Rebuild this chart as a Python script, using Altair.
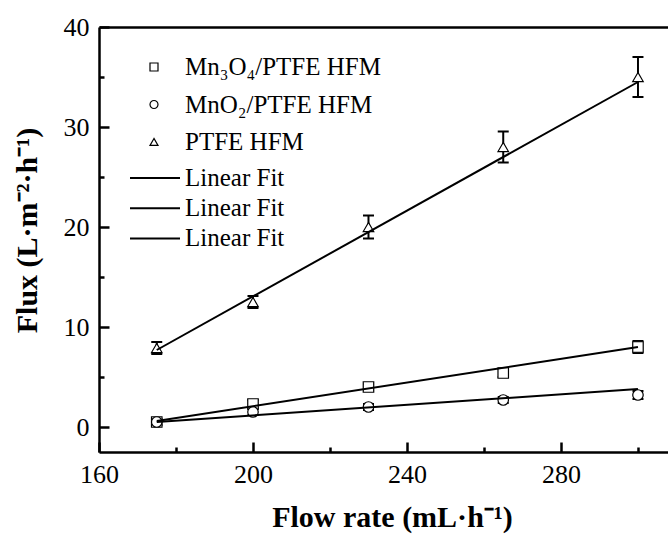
import altair as alt
import pandas as pd

# ---- data ----
flow = [175, 200, 230, 265, 300]
series_names = ["Mn₃O₄/PTFE HFM", "MnO₂/PTFE HFM", "PTFE HFM"]
mn3o4_flux = [0.5, 2.3, 4.0, 5.4, 8.0]
mn3o4_err = [0.3, 0.4, 0.3, 0.4, 0.6]
mno2_flux = [0.5, 1.5, 2.0, 2.7, 3.2]
mno2_err = [0.3, 0.3, 0.3, 0.3, 0.4]
ptfe_flux = [7.9, 12.5, 20.0, 28.0, 35.0]
ptfe_err = [0.6, 0.6, 1.15, 1.55, 2.0]

fit_keys = ["fit1", "fit2", "fit3"]
fit_x = [175, 300]
fit_mn3o4 = [0.6, 8.0]
fit_mno2 = [0.5, 3.8]
fit_ptfe = [7.7, 34.5]

x_major = [160, 200, 240, 280]
x_minor = [180, 220, 260, 300]
y_major = [0, 10, 20, 30, 40]
y_minor = [5, 15, 25, 35]

x_title = "Flow rate  (mL·h⁻¹)"
y_title = "Flux  (L·m⁻²·h⁻¹)"

# ---- tables ----
rows = []
for name, ys, es in zip(series_names,
                        [mn3o4_flux, mno2_flux, ptfe_flux],
                        [mn3o4_err, mno2_err, ptfe_err]):
    for x, y, e in zip(flow, ys, es):
        rows.append({"series": name, "x": x, "y": y, "lo": y - e, "hi": y + e})
pts = pd.DataFrame(rows)

frows = []
for key, ys in zip(fit_keys, [fit_mn3o4, fit_mno2, fit_ptfe]):
    for x, y in zip(fit_x, ys):
        frows.append({"fit": key, "x": x, "y": y})
fits = pd.DataFrame(frows)

W, H = 569, 425
FONT = "Liberation Serif"
xs = alt.Scale(domain=[160, 307.8], nice=False, zero=False)
ys_ = alt.Scale(domain=[-2.5, 40], nice=False, zero=False)

common = dict(grid=False, labelFont=FONT, labelColor="black", titleFont=FONT,
              titleColor="black", domainColor="black", tickColor="black")

ax_x_main = alt.Axis(orient="bottom", values=x_major, ticks=False, tickSize=0,
                     labelPadding=9, labelFontSize=26, labelFlush=False,
                     labelOverlap=False, domain=True, domainWidth=2.5,
                     title=x_title, titleFontSize=30, titleFontWeight="bold",
                     titleX=293, titleY=65, titleBaseline="middle", **common)
ax_y_main = alt.Axis(orient="left", values=y_major, ticks=False, tickSize=0,
                     labelPadding=10, labelFontSize=26, labelFlush=False,
                     labelOverlap=False, domain=True, domainWidth=2.5,
                     title=y_title, titleFontSize=30, titleFontWeight="bold",
                     titleX=-72, titleY=203, titleBaseline="middle", **common)
ax_x_maj_t = alt.Axis(orient="top", offset=-H, values=x_major, ticks=True,
                      tickSize=10, tickWidth=2.5, labels=False, domain=False,
                      title=None, **common)
ax_y_maj_t = alt.Axis(orient="right", offset=-W, values=y_major, ticks=True,
                      tickSize=10, tickWidth=2.5, labels=False, domain=False,
                      title=None, **common)
ax_x_min_t = alt.Axis(orient="top", offset=-H, values=x_minor, ticks=True,
                      tickSize=5, tickWidth=2.5, labels=False, domain=False,
                      title=None, **common)
ax_y_min_t = alt.Axis(orient="right", offset=-W, values=y_minor, ticks=True,
                      tickSize=5, tickWidth=2.5, labels=False, domain=False,
                      title=None, **common)
ax_x_top = alt.Axis(orient="top", ticks=False, labels=False, domain=True,
                    domainWidth=2.5, title=None, **common)

rules = alt.Chart(pts).mark_rule(color="black", strokeWidth=2).encode(
    x=alt.X("x:Q", scale=xs, axis=ax_x_maj_t),
    y=alt.Y("lo:Q", scale=ys_, axis=ax_y_maj_t),
    y2="hi:Q",
)
caps_hi = alt.Chart(pts).mark_point(shape="stroke", size=121, strokeWidth=2,
                                    color="black", filled=False, opacity=1).encode(
    x=alt.X("x:Q", scale=xs, axis=ax_x_min_t),
    y=alt.Y("hi:Q", scale=ys_, axis=ax_y_min_t),
)
caps_lo = alt.Chart(pts).mark_point(shape="stroke", size=121, strokeWidth=2,
                                    color="black", filled=False, opacity=1).encode(
    x=alt.X("x:Q", scale=xs, axis=ax_x_top),
    y=alt.Y("lo:Q", scale=ys_, axis=None),
)
points = alt.Chart(pts).mark_point(size=110, filled=False, color="black",
                                   fill="white", strokeWidth=1.2,
                                   opacity=1).encode(
    x=alt.X("x:Q", scale=xs, axis=None),
    y=alt.Y("y:Q", scale=ys_, axis=None),
    shape=alt.Shape("series:N",
                    scale=alt.Scale(domain=series_names,
                                    range=["square", "circle", "triangle-up"]),
                    legend=alt.Legend(orient="none", legendX=42.5, legendY=27.5,
                                      title=None, symbolSize=64,
                                      symbolStrokeWidth=1.2,
                                      labelOffset=18.5,
                                      rowPadding=11.5, padding=0,
                                      labelFont=FONT, labelFontSize=25,
                                      labelColor="black", labelLimit=400)),
)
lines = alt.Chart(fits).mark_line(strokeWidth=2).encode(
    x=alt.X("x:Q", scale=xs, axis=ax_x_main),
    y=alt.Y("y:Q", scale=ys_, axis=ax_y_main),
    color=alt.Color("fit:N",
                    scale=alt.Scale(domain=fit_keys, range=["black"] * 3),
                    legend=alt.Legend(orient="none", legendX=30, legendY=138.5,
                                      title=None, symbolType="stroke",
                                      symbolSize=2500, symbolStrokeWidth=2,
                                      labelExpr="'Linear Fit'", labelOffset=4,
                                      clipHeight=25, rowPadding=4.2, padding=0,
                                      labelFont=FONT, labelFontSize=25,
                                      labelColor="black", labelLimit=400)),
    detail="fit:N",
)

chart = alt.layer(rules, caps_hi, caps_lo, points, lines).resolve_axis(
    x="independent", y="independent"
).properties(
    width=W, height=H,
    autosize=alt.AutoSizeParams(type="none"),
    padding={"left": 99, "top": 27, "right": 0, "bottom": 534 - 27 - H},
    background="white",
).configure_view(strokeWidth=0)

chart.save("out.html", embed_options={"renderer": "svg", "actions": False})
